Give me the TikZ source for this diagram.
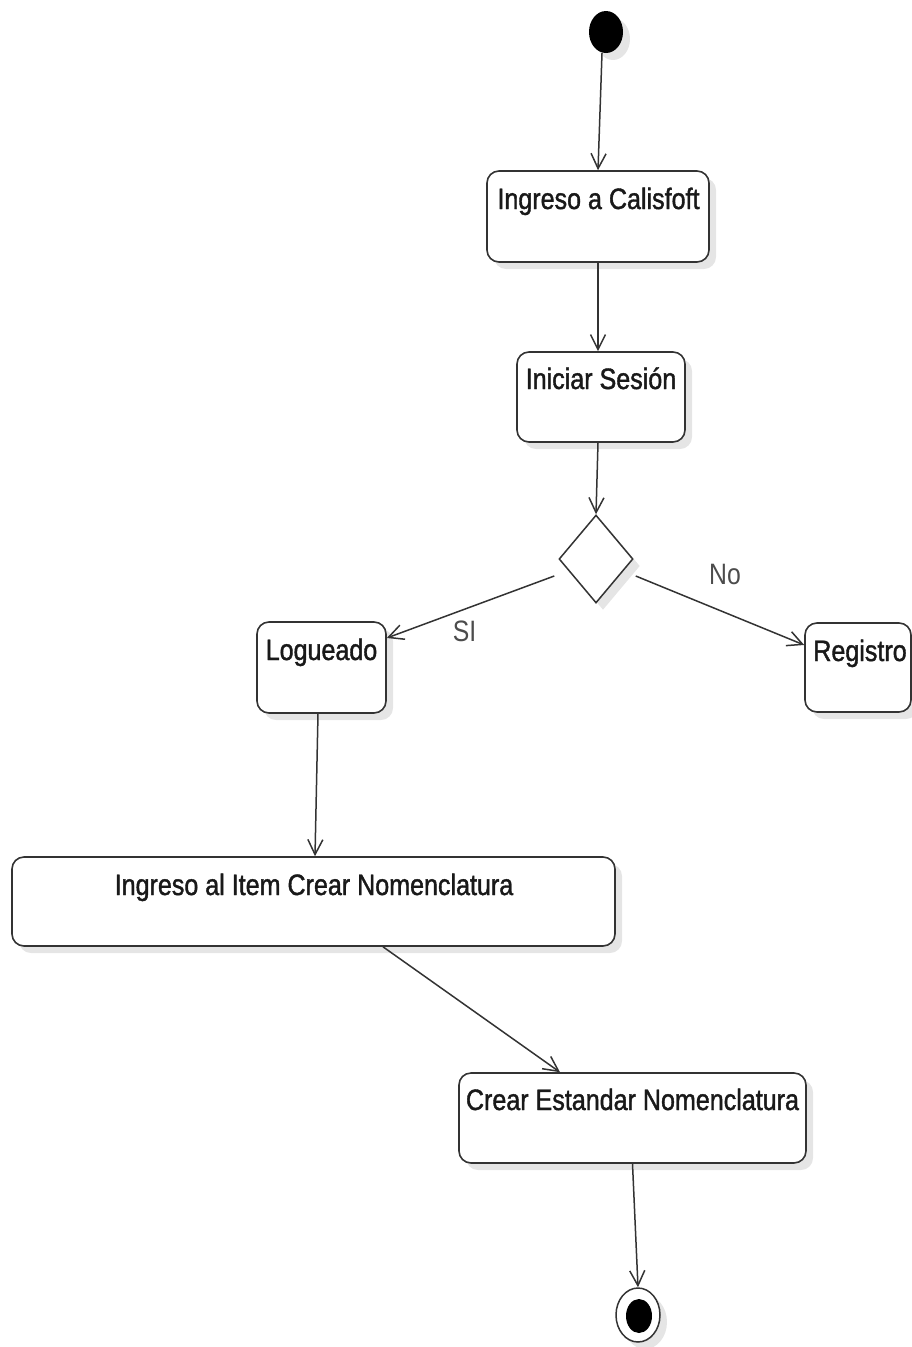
\documentclass[tikz,border=0pt]{standalone}
\usepackage{fontspec}
\setmainfont[FakeStretch=0.84]{Liberation Sans}
\newfontfamily\nodefont[FakeStretch=0.85,FakeBold=1.3]{Liberation Sans}
\usetikzlibrary{shapes.geometric,arrows.meta,shadows}
\begin{document}
\begin{tikzpicture}[x=1pt,y=-1pt,
  shad/.style={drop shadow={shadow xshift=7pt,shadow yshift=-7pt,fill=black!10,opacity=1}},
  actbox/.style={draw=black!80,line width=1.6pt,rounded corners=12pt,fill=white,shad,inner sep=0pt},
  boxtext/.style={anchor=base,font=\nodefont\fontsize{29.5}{32}\selectfont,text=black!90,inner sep=0pt},
  lbl/.style={anchor=base,font=\fontsize{29.5}{32}\selectfont,text=black!70,inner sep=0pt},
  flow/.style={draw=black!80,line width=1.5pt,-{Straight Barb[length=15pt,width=15pt,line width=1.5pt]}}
]
\useasboundingbox (0,0) rectangle (912,1347);
% start
\node[ellipse,fill=black,minimum width=34pt,minimum height=42pt,inner sep=0pt,shad] (start) at (606,32) {};
% boxes
\node[actbox,minimum width=222pt,minimum height=91pt] (b1) at (598,216.5) {};
\node[boxtext] (t1) at (598.5,209) {Ingreso a Calisfoft};
\node[actbox,minimum width=168pt,minimum height=90pt] (b2) at (601,397) {};
\node[boxtext] (t2) at (601,389) {Iniciar Sesión};
\node[diamond,draw=black!80,line width=1.5pt,fill=white,minimum width=74pt,minimum height=88pt,inner sep=0pt,shad] (d) at (596,559) {};
\node[actbox,minimum width=129pt,minimum height=91pt] (lg) at (321.5,667.5) {};
\node[boxtext] (t3) at (321.5,660) {Logueado};
\node[actbox,minimum width=106pt,minimum height=89pt] (rg) at (858,667.5) {};
\node[boxtext] (t4) at (860,661) {Registro};
\node[actbox,minimum width=603pt,minimum height=89pt] (big) at (313.5,901.5) {};
\node[boxtext] (t5) at (314,895) {Ingreso al Item Crear Nomenclatura};
\node[actbox,minimum width=347pt,minimum height=90pt] (cr) at (632.5,1118) {};
\node[boxtext] (t6) at (632.5,1110) {Crear Estandar Nomenclatura};
% end
\node[ellipse,draw=black!80,line width=1.5pt,fill=white,minimum width=44pt,minimum height=54pt,inner sep=0pt,shad] (end) at (638,1315) {};
\node[ellipse,fill=black,minimum width=26pt,minimum height=34pt,inner sep=0pt] (endin) at (639,1316) {};
% labels
\node[lbl] (si) at (464.5,641) {SI};
\node[lbl] (no) at (725,584) {No};
% connectors
\draw[flow] ([xshift=-4pt]start.south) -- (b1.north);
\draw[flow] (b1.south) -- (b1.south |- b2.north);
\draw[flow] ([xshift=-3pt]b2.south) -- (d.north);
\draw[flow] ([shift={(-4,17)}]d.west) -- ([yshift=29.5pt]lg.east);
\draw[flow] ([shift={(2,17)}]d.east) -- ([yshift=22.5pt]rg.west);
\draw[flow] ([xshift=-3.5pt]lg.south) -- ([xshift=1.5pt]big.north);
\draw[flow] ([xshift=69.5pt]big.south) -- ([xshift=-72.5pt]cr.north);
\draw[flow] (cr.south) -- (end.north);
\end{tikzpicture}
\end{document}
